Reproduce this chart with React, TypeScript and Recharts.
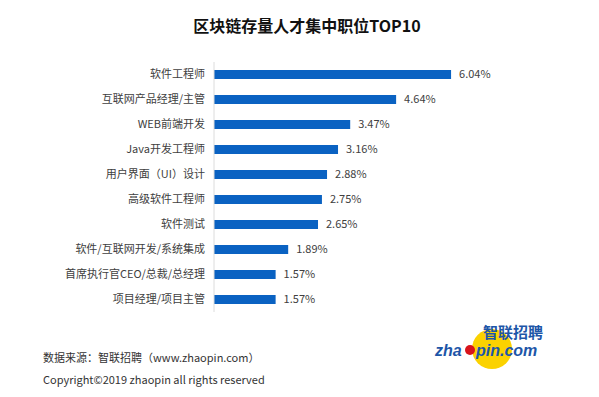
import { BarChart, Bar, XAxis, YAxis, LabelList } from 'recharts';

const positions = [
  '软件工程师',
  '互联网产品经理/主管',
  'WEB前端开发',
  'Java开发工程师',
  '用户界面（UI）设计',
  '高级软件工程师',
  '软件测试',
  '软件/互联网开发/系统集成',
  '首席执行官CEO/总裁/总经理',
  '项目经理/项目主管',
];
const shares = [6.04, 4.64, 3.47, 3.16, 2.88, 2.75, 2.65, 1.89, 1.57, 1.57];

const data = positions.map((name, i) => ({ name, value: shares[i] }));

const FONT = '"Noto Sans CJK SC", "Noto Sans", sans-serif';
const BLUE = '#0a62c2';

function Logo() {
  return (
    <svg width={130} height={60} style={{ position: 'absolute', left: 430, top: 320 }}>
      <circle cx={62} cy={29} r={20} fill="#fbd200" />
      <text x={53} y={18} fontFamily={FONT} fontWeight={700} fontSize={15} fill="#1d56a8">智联招聘</text>
      <text x={5} y={36} fontFamily="Arial, 'Liberation Sans', sans-serif" fontWeight={700} fontStyle="italic" fontSize={16} fill="#1d56a8">zha</text>
      <circle cx={40} cy={30} r={5} fill="#d8141c" />
      <text x={46} y={36} fontFamily="Arial, 'Liberation Sans', sans-serif" fontWeight={700} fontStyle="italic" fontSize={16} fill="#1d56a8">pin.com</text>
    </svg>
  );
}

export default function App() {
  return (
    <div style={{ position: 'absolute', left: 0, top: 0, width: 599, height: 397, background: '#fff', fontFamily: FONT }}>
      <div style={{ position: 'absolute', left: 0, top: 15, width: 614, textAlign: 'center', fontSize: 16, fontWeight: 700, color: '#111', lineHeight: '20px' }}>
        区块链存量人才集中职位TOP10
      </div>
      <BarChart
        width={599}
        height={397}
        data={data}
        layout="vertical"
        margin={{ top: 62, right: 71, bottom: 85, left: 0 }}
      >
        <XAxis type="number" domain={[0, 8]} hide />
        <YAxis
          type="category"
          dataKey="name"
          width={214}
          tickLine={false}
          tickMargin={3}
          axisLine={{ stroke: '#dcdcdc' }}
          interval={0}
          tick={{ fontSize: 11, fill: '#404040', fontFamily: FONT }}
        />
        <Bar dataKey="value" fill={BLUE} barSize={9} isAnimationActive={false}>
          <LabelList
            dataKey="value"
            position="right"
            offset={8}
            formatter={(v: number) => `${v.toFixed(2)}%`}
            style={{ fontSize: 11, fill: '#404040', fontFamily: FONT }}
          />
        </Bar>
      </BarChart>
      <div style={{ position: 'absolute', left: 43, top: 346, fontSize: 11, color: '#333', lineHeight: '22px' }}>
        <div>数据来源：智联招聘（www.zhaopin.com）</div>
        <div>Copyright©2019 zhaopin all rights reserved</div>
      </div>
      <Logo />
    </div>
  );
}
